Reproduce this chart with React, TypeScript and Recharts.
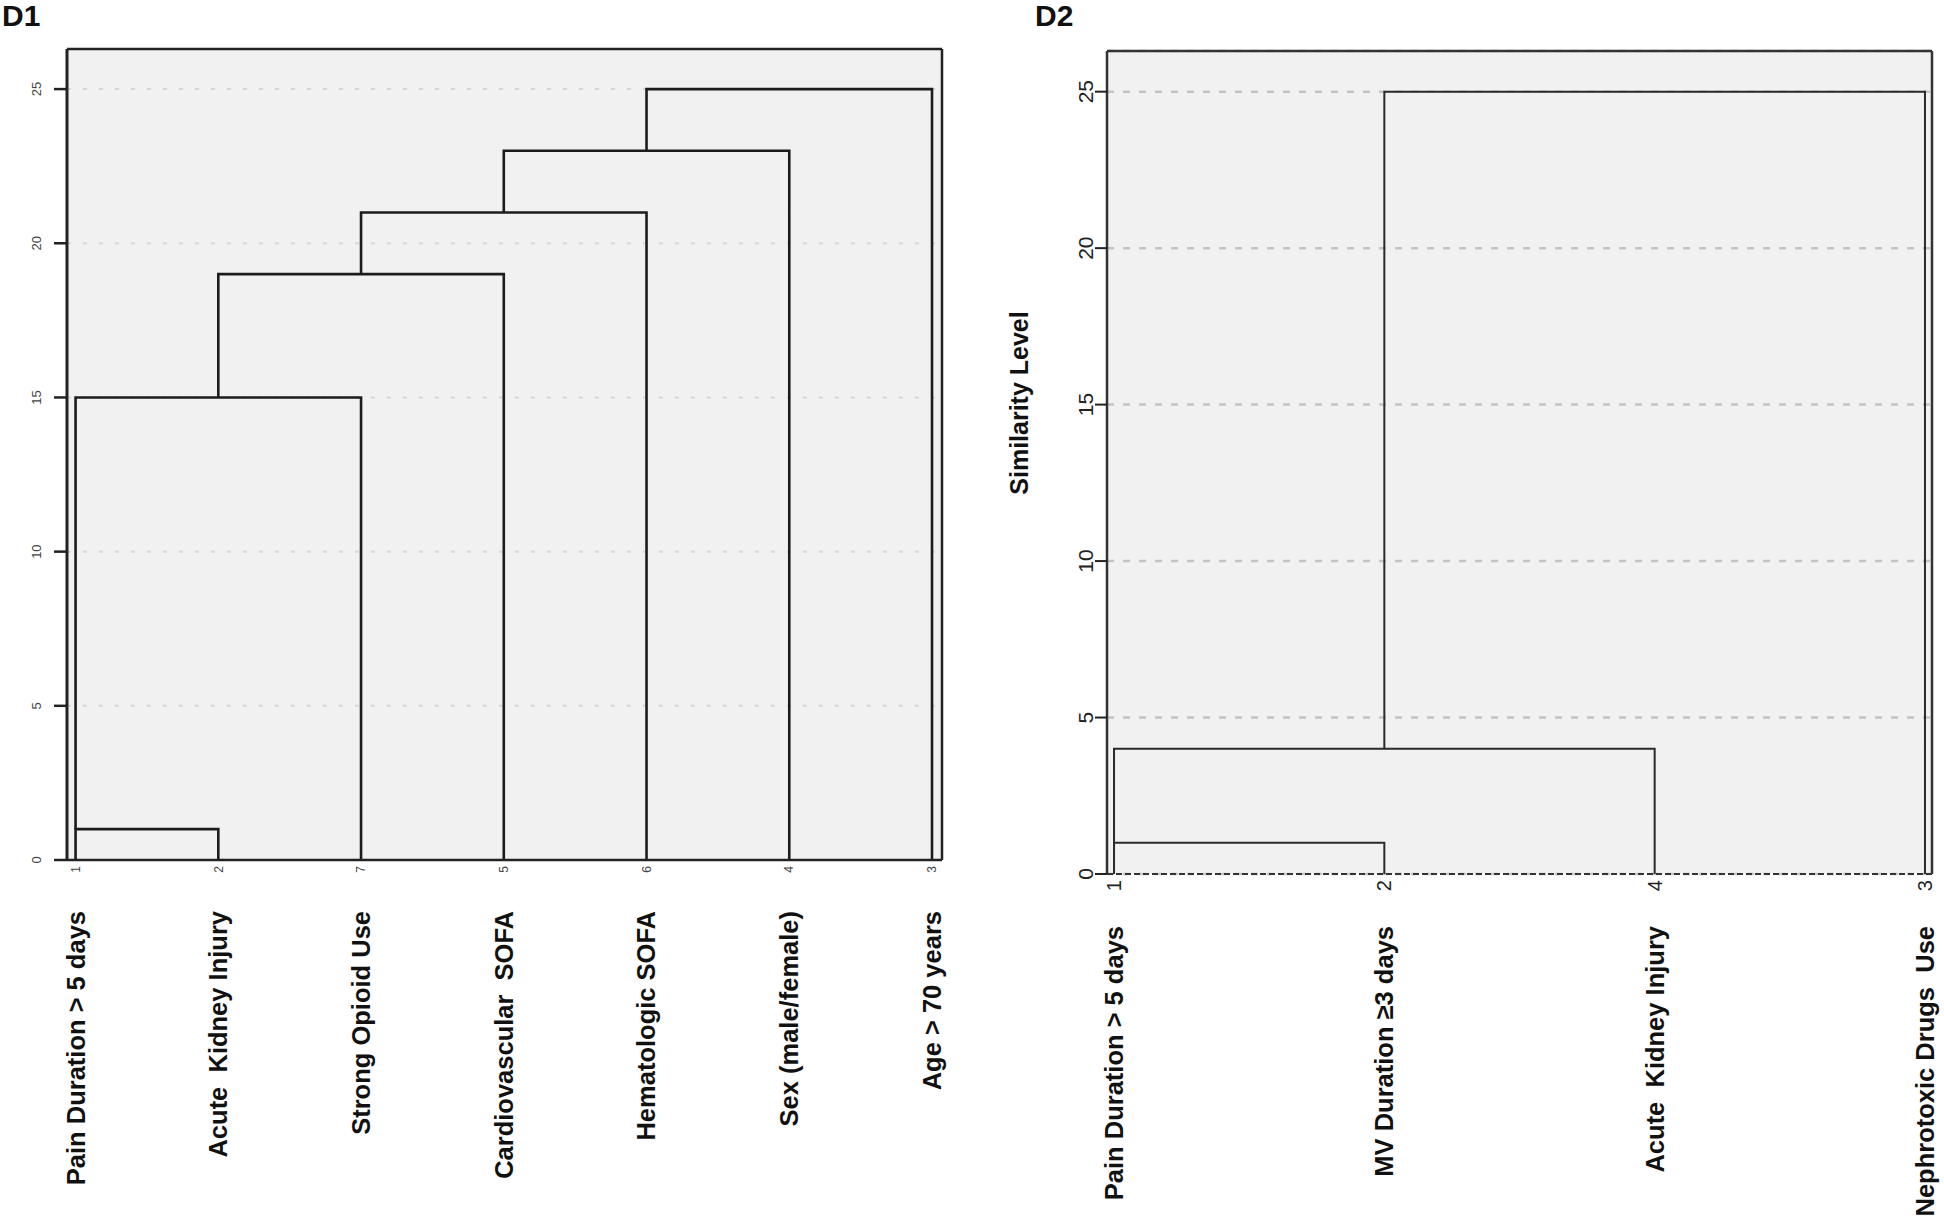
import React from 'react';
import { LineChart, Line, XAxis, YAxis, CartesianGrid, ReferenceLine } from 'recharts';

// ---------- D1 data ----------
const d1LeafIds = ['1', '2', '7', '5', '6', '4', '3'];
const d1LeafLabels = [
  'Pain Duration > 5 days',
  'Acute  Kidney Injury',
  'Strong Opioid Use',
  'Cardiovascular  SOFA',
  'Hematologic SOFA',
  'Sex (male/female)',
  'Age > 70 years',
];
const d1MergeHeights = [1, 15, 19, 21, 23, 25];
const d1MergeLeftPos = [1, 1, 2, 3, 4, 5];
const d1MergeRightPos = [2, 3, 4, 5, 6, 7];
const d1MergeLeftBase = [0, 1, 15, 19, 21, 23];
const d1MergeRightBase = [0, 0, 0, 0, 0, 0];

// ---------- D2 data ----------
const d2LeafIds = ['1', '2', '4', '3'];
const d2LeafLabels = [
  'Pain Duration > 5 days',
  'MV Duration \u22653 days',
  'Acute  Kidney Injury',
  'Nephrotoxic Drugs  Use',
];
const d2MergeHeights = [1, 4, 25];
const d2MergeLeftPos = [1, 1, 2];
const d2MergeRightPos = [2, 3, 4];
const d2MergeLeftBase = [0, 1, 4];
const d2MergeRightBase = [0, 0, 0];

const yTicks = [0, 5, 10, 15, 20, 25];
const yMax = 26.3;

const FONT = '"Liberation Sans", Arial, Helvetica, sans-serif';

function buildSegments(heights: number[], lp: number[], rp: number[], lb: number[], rb: number[]) {
  return heights.map((h, i) => [
    { x: lp[i], y: lb[i] },
    { x: lp[i], y: h },
    { x: rp[i], y: h },
    { x: rp[i], y: rb[i] },
  ]);
}

const d1Segments = buildSegments(d1MergeHeights, d1MergeLeftPos, d1MergeRightPos, d1MergeLeftBase, d1MergeRightBase);
const d2Segments = buildSegments(d2MergeHeights, d2MergeLeftPos, d2MergeRightPos, d2MergeLeftBase, d2MergeRightBase);

const D1XTick = (props: any) => {
  const { x, y, payload } = props;
  const i = Math.round(payload.value) - 1;
  return (
    <g>
      <text transform={`translate(${x},${y + 6}) rotate(-90)`} textAnchor="end" dy="0.35em" fontSize={12} fill="#444" fontFamily={FONT}>
        {d1LeafIds[i]}
      </text>
      <text transform={`translate(${x},${y + 51}) rotate(-90)`} textAnchor="end" dy="0.35em" fontSize={25.5} fontWeight="bold" fill="#111" fontFamily={FONT} style={{ whiteSpace: 'pre' }}>
        {d1LeafLabels[i]}
      </text>
    </g>
  );
};

const D1YTick = (props: any) => {
  const { x, y, payload } = props;
  return (
    <text transform={`translate(${x - 18},${y}) rotate(-90)`} textAnchor="middle" dy="0.35em" fontSize={13} fill="#444" fontFamily={FONT}>
      {payload.value}
    </text>
  );
};

const D2XTick = (props: any) => {
  const { x, y, payload } = props;
  const i = Math.round(payload.value) - 1;
  return (
    <g>
      <text transform={`translate(${x},${y + 6}) rotate(-90)`} textAnchor="end" dy="0.35em" fontSize={20} fill="#222" fontFamily={FONT}>
        {d2LeafIds[i]}
      </text>
      <text transform={`translate(${x},${y + 52}) rotate(-90)`} textAnchor="end" dy="0.35em" fontSize={25.5} fontWeight="bold" fill="#111" fontFamily={FONT} style={{ whiteSpace: 'pre' }}>
        {d2LeafLabels[i]}
      </text>
    </g>
  );
};

const D2YTick = (props: any) => {
  const { x, y, payload } = props;
  return (
    <text transform={`translate(${x - 9},${y}) rotate(-90)`} textAnchor="middle" dy="0.35em" fontSize={21} fill="#222" fontFamily={FONT}>
      {payload.value}
    </text>
  );
};

const SimLabel = () => (
  <text transform="translate(19,403) rotate(-90)" textAnchor="middle" dy="0.35em" fontSize={25} fontWeight="bold" fill="#111" fontFamily={FONT}>
    Similarity Level
  </text>
);

export default function App() {
  return (
    <div style={{ position: 'absolute', left: 0, top: 0, width: 1944, height: 1220, background: '#fff', fontFamily: FONT }}>
      <div style={{ position: 'absolute', left: 2, top: 1, fontSize: 30, lineHeight: '30px', fontWeight: 'bold', color: '#111' }}>D1</div>
      <div style={{ position: 'absolute', left: 1035, top: 1, fontSize: 30, lineHeight: '30px', fontWeight: 'bold', color: '#111' }}>D2</div>

      <div style={{ position: 'absolute', left: 0, top: 0 }}>
        <LineChart width={960} height={1220} margin={{ top: 49, right: 18, left: 0, bottom: 0 }}>
          <CartesianGrid vertical={false} fill="#f1f1f1" stroke="#d6d6d6" strokeDasharray="4 12" strokeWidth={2} />
          <XAxis
            type="number"
            dataKey="x"
            domain={[0.94, 7.07]}
            ticks={[1, 2, 3, 4, 5, 6, 7]}
            allowDataOverflow
            height={360}
            tickSize={0}
            tickMargin={0}
            tickLine={false}
            axisLine={{ stroke: '#222', strokeWidth: 2.5 }}
            tick={<D1XTick />}
            interval={0}
          />
          <YAxis
            type="number"
            dataKey="y"
            domain={[0, yMax]}
            ticks={yTicks}
            allowDataOverflow
            width={67}
            tickSize={13}
            tickMargin={0}
            tickLine={{ stroke: '#222', strokeWidth: 2.5 }}
            axisLine={{ stroke: '#222', strokeWidth: 3 }}
            tick={<D1YTick />}
            interval={0}
          />
          {d1Segments.map((seg, i) => (
            <Line
              key={`d1-${i}`}
              data={seg}
              dataKey="y"
              type="linear"
              stroke="#1c1c1c"
              strokeWidth={2.6}
              dot={false}
              activeDot={false}
              isAnimationActive={false}
            />
          ))}
          <ReferenceLine y={yMax} stroke="#222" strokeWidth={2.5} />
          <ReferenceLine x={7.07} stroke="#222" strokeWidth={2.5} />
        </LineChart>
      </div>

      <div style={{ position: 'absolute', left: 1000, top: 0 }}>
        <LineChart width={944} height={1220} margin={{ top: 51, right: 12, left: 0, bottom: 0 }}>
          <CartesianGrid vertical={false} fill="#f1f1f1" stroke="#c4c4c4" strokeDasharray="7 9" strokeWidth={2.5} />
          <XAxis
            type="number"
            dataKey="x"
            domain={[0.974, 4.026]}
            ticks={[1, 2, 3, 4]}
            allowDataOverflow
            height={346}
            tickSize={0}
            tickMargin={0}
            tickLine={false}
            axisLine={false}
            tick={<D2XTick />}
            interval={0}
          />
          <YAxis
            type="number"
            dataKey="y"
            domain={[0, yMax]}
            ticks={yTicks}
            allowDataOverflow
            width={107}
            tickSize={12}
            tickMargin={0}
            tickLine={{ stroke: '#222', strokeWidth: 2 }}
            axisLine={{ stroke: '#333', strokeWidth: 2.5 }}
            tick={<D2YTick />}
            interval={0}
            label={<SimLabel />}
          />
          <ReferenceLine y={0} stroke="#333" strokeWidth={2} strokeDasharray="6 3" />
          {d2Segments.map((seg, i) => (
            <Line
              key={`d2-${i}`}
              data={seg}
              dataKey="y"
              type="linear"
              stroke="#2a2a2a"
              strokeWidth={2}
              dot={false}
              activeDot={false}
              isAnimationActive={false}
            />
          ))}
          <ReferenceLine y={yMax} stroke="#333" strokeWidth={2.5} />
          <ReferenceLine x={4.026} stroke="#333" strokeWidth={2.5} />
        </LineChart>
      </div>
    </div>
  );
}
